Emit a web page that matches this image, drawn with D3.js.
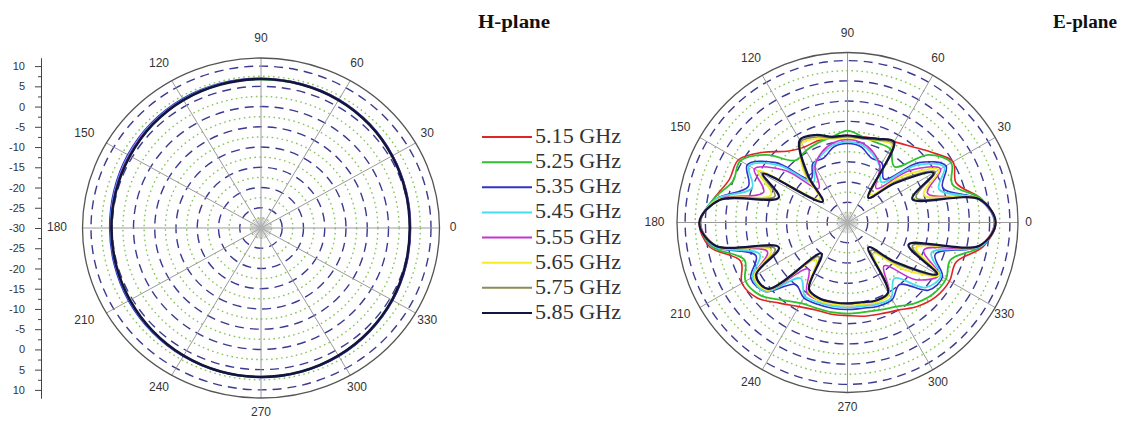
<!DOCTYPE html>
<html lang="en">
<head>
    <meta charset="UTF-8">
    <title>H-plane / E-plane</title>
    <script src="https://d3js.org/d3.v7.min.js"></script>
    <style>
        body { margin: 0; background: #fff; }
        text.ang { font-family: 'Liberation Sans', Arial, sans-serif; font-size: 12px; fill: #333; }
        .axis text { font-family: 'Liberation Sans', Arial, sans-serif; font-size: 11px; fill: #333; }
        .axis path, .axis line { stroke: #444; }
        text.title { font-family: 'Liberation Serif', 'Times New Roman', serif; font-weight: bold; font-size: 18px; fill: #111; }
        text.leg { font-family: 'Liberation Serif', 'Times New Roman', serif; font-size: 20px; fill: #333; }
    </style>
</head>
<body>
<svg width="1128" height="421"></svg>
<script>
    // series
    const freqs = ["5.15 GHz", "5.25 GHz", "5.35 GHz", "5.45 GHz", "5.55 GHz", "5.65 GHz", "5.75 GHz", "5.85 GHz"];
    const colors = ["#e02424", "#2ec02e", "#3232c8", "#48dcec", "#c534d2", "#f2ee26", "#8c8c55", "#141440"];

    // radial axis / angle ticks
    const angleTicks = [0, 30, 60, 90, 120, 150, 180, 210, 240, 270, 300, 330];
    const dbTicks = [-30, -25, -20, -15, -10, -5, 0, 5, 10];
    const dbMinor = [-27.5, -22.5, -17.5, -12.5, -7.5, -2.5, 2.5, 7.5];

    // H-plane, every 15 deg
    const hAngles = [0, 15, 30, 45, 60, 75, 90, 105, 120, 135, 150, 165, 180, 195, 210, 225, 240, 255, 270, 285, 300, 315, 330, 345];
    const h515 = [5.1, 5.3, 5.7, 6.1, 6.5, 6.7, 6.8, 6.8, 6.6, 6.2, 5.8, 5.5, 5.3, 5.4, 5.7, 6.1, 6.5, 6.7, 6.8, 6.7, 6.4, 6.0, 5.6, 5.3];
    const h525 = [5.0, 5.2, 5.6, 6.0, 6.4, 6.6, 6.7, 6.7, 6.5, 6.1, 5.7, 5.4, 5.2, 5.3, 5.6, 6.0, 6.4, 6.6, 6.7, 6.6, 6.3, 5.9, 5.5, 5.2];
    const h535 = [5.2, 5.4, 5.8, 6.3, 6.7, 6.9, 7.0, 7.0, 6.9, 6.6, 6.2, 5.8, 5.6, 5.7, 6.0, 6.3, 6.6, 6.8, 6.9, 6.8, 6.6, 6.2, 5.8, 5.4];
    const h545 = [5.1, 5.3, 5.7, 6.2, 6.6, 6.8, 6.9, 6.9, 6.7, 6.4, 6.0, 5.6, 5.4, 5.5, 5.8, 6.2, 6.5, 6.8, 6.9, 6.8, 6.5, 6.1, 5.7, 5.3];
    const h555 = [5.1, 5.3, 5.7, 6.2, 6.6, 6.8, 6.9, 6.8, 6.6, 6.3, 5.9, 5.5, 5.3, 5.4, 5.7, 6.1, 6.5, 6.7, 6.8, 6.7, 6.5, 6.1, 5.7, 5.3];
    const h565 = [5.0, 5.2, 5.6, 6.1, 6.5, 6.7, 6.8, 6.7, 6.5, 6.1, 5.7, 5.3, 5.2, 5.3, 5.6, 6.0, 6.4, 6.7, 6.8, 6.7, 6.4, 6.0, 5.6, 5.2];
    const h575 = [5.0, 5.2, 5.6, 6.1, 6.5, 6.7, 6.8, 6.7, 6.5, 6.1, 5.6, 5.3, 5.2, 5.3, 5.6, 6.0, 6.4, 6.7, 6.8, 6.7, 6.4, 6.0, 5.6, 5.2];
    const h585 = [5.0, 5.2, 5.6, 6.1, 6.5, 6.7, 6.8, 6.7, 6.5, 6.1, 5.6, 5.3, 5.2, 5.3, 5.6, 6.0, 6.4, 6.7, 6.8, 6.7, 6.4, 6.0, 5.6, 5.2];

    // E-plane, every 10 deg
    const eAngles = [0, 10, 20, 30, 40, 50, 60, 70, 80, 90, 100, 110, 120, 130, 140, 150, 160, 170,
                     180, 190, 200, 210, 220, 230, 240, 250, 260, 270, 280, 290, 300, 310, 320, 330, 340, 350];
    const e515 = [6.5, 3.5, -1.5, 0, -3, -5.5, -7, -8, -8.5, -8.5, -8.5, -8.5, -8.5, -7, -3, 1, 1, 3.5,
                  6.5, 4.5, -2, 0, -1, -4, -6, -7, -7, -7, -6.5, -6, -5, -3, -1.5, -1, -1.5, 4];
    const e525 = [6.3, 3.5, -2.5, -0.5, -4, -12, -9, -9, -8.5, -7.3, -8.5, -9, -9.5, -10, -4, 0.5, 0, 3.5,
                  6.3, 4, -3, -1, -2, -5, -7, -7.5, -7.5, -7.5, -7.5, -7, -6, -4, -2.5, -2, -3, 3.5];
    const e535 = [6.3, 3, -5, -2, -7, -16, -13, -13, -11, -10.5, -11, -13, -13, -16, -7, -1.5, -4, 3,
                  6.3, 3.5, -6, -2.5, -3.5, -10, -8.5, -8.5, -8.5, -8.5, -8.5, -8, -8, -10, -4, -3, -7, 3.5];
    const e545 = [6.2, 3, -6, -2.5, -8, -17, -14, -12, -10.5, -10, -10.5, -12, -13.5, -17, -8, -2, -5, 3,
                  6.2, 3.5, -7, -3, -3.5, -12, -9, -9, -9, -9, -9, -8.5, -8.5, -12, -5, -3.5, -8, 3.5];
    const e555 = [6.2, 3, -9, -3.5, -10, -19, -14, -11.5, -10, -9.5, -10, -11.5, -14, -19, -10, -3.5, -8, 2.5,
                  6.2, 3, -9, -3.5, -4, -15, -10, -9.5, -9.5, -9.5, -9.5, -9, -9.5, -16, -8, -4, -10, 3];
    const e565 = [6.4, 3.2, -10, -4, -12, -21, -8, -8.5, -9, -9, -9, -8, -7.5, -13, -21, -4.5, -10, 2.5,
                  6.4, 3, -10, -3.5, -4, -18, -10.5, -9.5, -9.5, -9.5, -9.5, -9, -9.5, -20, -12, -4, -12, 3];
    const e575 = [6.4, 3, -12, -5, -14, -22, -7.5, -8.3, -9, -8.8, -8.8, -7.5, -7, -14, -22, -5.5, -11, 2,
                  6.4, 3, -11, -4, -4.5, -19, -11, -10, -10, -10, -10, -9.5, -10, -21, -14, -4.5, -13, 3];
    const e585 = [6.5, 3, -13, -5.5, -15, -22, -7, -8, -8.7, -8.5, -8.5, -7, -6.5, -15, -22, -6, -12, 2,
                  6.5, 3, -12, -4, -4.5, -20, -11, -10, -10, -10, -10, -9.5, -10, -22, -15, -4.5, -14, 3];

    const hSeries = [h515, h525, h535, h545, h555, h565, h575, h585];
    const eSeries = [e515, e525, e535, e545, e555, e565, e575, e585];

    const svg = d3.select("svg");
    const rad = d => d * Math.PI / 180;

    function makePlot(cx, cy, rx, ry, lrx, lry) {
        return {
            cx, cy, lrx, lry,
            sx: d3.scaleLinear().domain([-30, 12]).range([0, rx]).clamp(true),
            sy: d3.scaleLinear().domain([-30, 12]).range([0, ry]).clamp(true)
        };
    }
    const hp = makePlot(261, 228, 178.5, 170, 192, 189);
    const ep = makePlot(847.5, 222.5, 170.5, 170, 181, 189);

    function xy(p, ang, db) {
        const a = rad(ang);
        return [p.cx + p.sx(db) * Math.cos(a), p.cy - p.sy(db) * Math.sin(a)];
    }

    function drawGrid(p) {
        const g = svg.append("g");
        g.selectAll("ellipse.dot").data(dbMinor).enter().append("ellipse")
            .attr("cx", p.cx).attr("cy", p.cy)
            .attr("rx", d => p.sx(d)).attr("ry", d => p.sy(d))
            .attr("fill", "none").attr("stroke", "#86c55c").attr("stroke-width", 1.4)
            .attr("stroke-dasharray", "1.6,3.4");
        g.selectAll("ellipse.dash").data(dbTicks.slice(1)).enter().append("ellipse")
            .attr("cx", p.cx).attr("cy", p.cy)
            .attr("rx", d => p.sx(d)).attr("ry", d => p.sy(d))
            .attr("fill", "none").attr("stroke", "#3a3a90").attr("stroke-width", 1.4)
            .attr("stroke-dasharray", "9,6");
        g.selectAll("line.spoke").data(angleTicks).enter().append("line")
            .attr("x1", p.cx).attr("y1", p.cy)
            .attr("x2", d => xy(p, d, 12.8)[0]).attr("y2", d => xy(p, d, 12.8)[1])
            .attr("stroke", "#9a9a9a").attr("stroke-width", 1);
        g.selectAll("line.burst").data(d3.range(0, 360, 10)).enter().append("line")
            .attr("x1", p.cx).attr("y1", p.cy)
            .attr("x2", d => p.cx + 11 * Math.cos(rad(d))).attr("y2", d => p.cy - 11 * Math.sin(rad(d)))
            .attr("stroke", "#b0b0b0").attr("stroke-width", 0.7);
        g.append("ellipse")
            .attr("cx", p.cx).attr("cy", p.cy)
            .attr("rx", p.sx(12)).attr("ry", p.sy(12))
            .attr("fill", "none").attr("stroke", "#555").attr("stroke-width", 1.3);
        g.selectAll("text.ang").data(angleTicks).enter().append("text")
            .attr("class", "ang")
            .attr("x", d => {
                const c = Math.cos(rad(d));
                return p.cx + p.lrx * c + (c < -0.01 ? 12 * c : 0);
            })
            .attr("y", d => {
                const s = Math.sin(rad(d));
                return p.cy - (s < 0 ? 185 : p.lry) * s;
            })
            .attr("text-anchor", "middle").attr("dominant-baseline", "middle")
            .text(d => d);
    }

    function drawSeries(p, angles, series, widths) {
        const line = d3.line().curve(d3.curveCatmullRomClosed.alpha(0.5));
        svg.append("g").selectAll("path").data(series).enter().append("path")
            .attr("d", vals => line(vals.map((v, i) => xy(p, angles[i], v))))
            .attr("fill", "none")
            .attr("stroke", (d, i) => colors[i])
            .attr("stroke-width", (d, i) => widths[i])
            .attr("stroke-linejoin", "round");
    }

    drawGrid(hp);
    drawSeries(hp, hAngles, hSeries, [1.4, 1.4, 1.6, 1.4, 1.4, 1.4, 1.4, 2.6]);

    drawGrid(ep);
    drawSeries(ep, eAngles, eSeries, [1.6, 1.8, 1.6, 1.8, 1.6, 1.8, 1.6, 2.2]);

    // left dB axis (mirrored about the centre)
    const yTop = d3.scaleLinear().domain([-30, 12]).range([hp.cy, hp.cy - 170]);
    const yBot = d3.scaleLinear().domain([-30, 12]).range([hp.cy, hp.cy + 170]);
    const fmt = d => String(d);
    const axG = svg.append("g").attr("class", "axis").attr("transform", "translate(41,0)");
    axG.append("g").call(d3.axisLeft(yTop).tickValues(dbTicks).tickFormat(fmt).tickSize(6).tickPadding(10).tickSizeOuter(0));
    axG.append("g").call(d3.axisLeft(yBot).tickValues(dbTicks.slice(1)).tickFormat(fmt).tickSize(6).tickPadding(10).tickSizeOuter(0));
    axG.append("g").call(d3.axisLeft(yTop).tickValues(dbMinor).tickFormat("").tickSize(3).tickSizeOuter(0));
    axG.append("g").call(d3.axisLeft(yBot).tickValues(dbMinor).tickFormat("").tickSize(3).tickSizeOuter(0));

    // titles
    svg.append("text").attr("class", "title").attr("x", 478).attr("y", 28)
        .attr("textLength", 72).attr("lengthAdjust", "spacingAndGlyphs").text("H-plane");
    svg.append("text").attr("class", "title").attr("x", 1053).attr("y", 28)
        .attr("textLength", 64).attr("lengthAdjust", "spacingAndGlyphs").text("E-plane");

    // legend
    const legY = d3.scaleLinear().domain([0, 7]).range([137, 313]);
    const leg = svg.append("g").selectAll("g").data(freqs).enter().append("g")
        .attr("transform", (d, i) => `translate(0,${legY(i)})`);
    leg.append("line").attr("x1", 482).attr("x2", 532).attr("y1", 0).attr("y2", 0)
        .attr("stroke", (d, i) => colors[i]).attr("stroke-width", 2);
    leg.append("text").attr("class", "leg").attr("x", 535).attr("y", 6)
        .attr("textLength", 86).attr("lengthAdjust", "spacingAndGlyphs").text(d => d);
</script>
</body>
</html>
